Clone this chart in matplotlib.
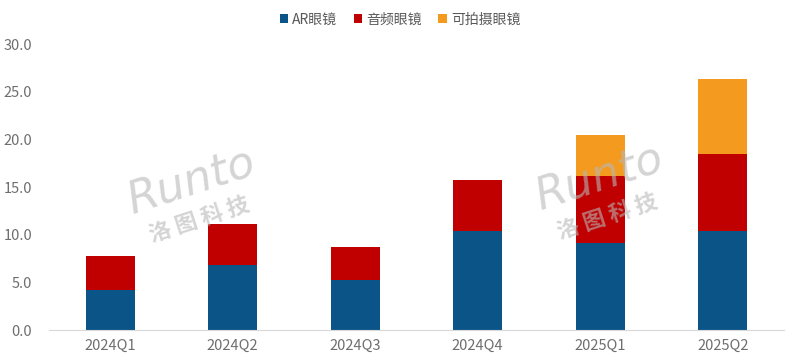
import numpy as np
import matplotlib as mpl
mpl.use('Agg')
import matplotlib.pyplot as plt

plt.rcParams['font.family'] = ['Noto Sans CJK SC', 'DejaVu Sans']

# quarterly shipments (million units)
quarters = ["2024Q1", "2024Q2", "2024Q3", "2024Q4", "2025Q1", "2025Q2"]
ar = [4.2, 6.8, 5.3, 10.4, 9.1, 10.4]
audio = [3.6, 4.3, 3.4, 5.4, 7.1, 8.1]
camera = [0.0, 0.0, 0.0, 0.0, 4.3, 7.8]

names = ["AR眼镜", "音频眼镜", "可拍摄眼镜"]
colors = ["#0b5487", "#c00000", "#f39a1f"]

fig = plt.figure(figsize=(8, 3.62), dpi=100)
ax = fig.add_axes([0.061, 0.088, 0.919, 0.79])

x = np.arange(len(quarters))
w = 0.4
ar = np.array(ar)
audio = np.array(audio)
camera = np.array(camera)
ax.bar(x, ar, w, color=colors[0], label=names[0])
ax.bar(x, audio, w, bottom=ar, color=colors[1], label=names[1])
ax.bar(x, camera, w, bottom=ar + audio, color=colors[2], label=names[2])

ax.set_xlim(-0.5, len(quarters) - 0.5)
ax.set_ylim(0, 30)
ax.set_yticks(np.arange(0, 31, 5))
ax.set_yticklabels(["%.1f" % v for v in np.arange(0, 31, 5)])
ax.set_xticks(x)
ax.set_xticklabels(quarters)
ax.tick_params(length=0, colors="#6e6e6e", labelsize=10.5)
ax.tick_params(axis='y', pad=12)
ax.tick_params(axis='x', pad=6)
for s in ["top", "right", "left"]:
    ax.spines[s].set_visible(False)
ax.spines["bottom"].set_color("#d9d9d9")

# watermark
for wx, wy in [(0.24, 0.45), (0.75, 0.46)]:
    fig.text(wx, wy + 0.05, "Runto", fontsize=32, style="italic", color="#b8b8b8",
             alpha=0.6, rotation=18, ha="center", va="center", family="DejaVu Sans")
    fig.text(wx + 0.01, wy - 0.06, "洛 图 科 技", fontsize=16, weight="bold", color="#b8b8b8",
             alpha=0.6, rotation=18, ha="center", va="center")

fig.legend(loc="upper center", bbox_to_anchor=(0.5, 1.0), ncol=3, frameon=False,
           fontsize=10, handlelength=0.6, handleheight=0.6, handletextpad=0.3,
           columnspacing=1.2, labelcolor="#595959")

fig.savefig("out.png", dpi=100)
